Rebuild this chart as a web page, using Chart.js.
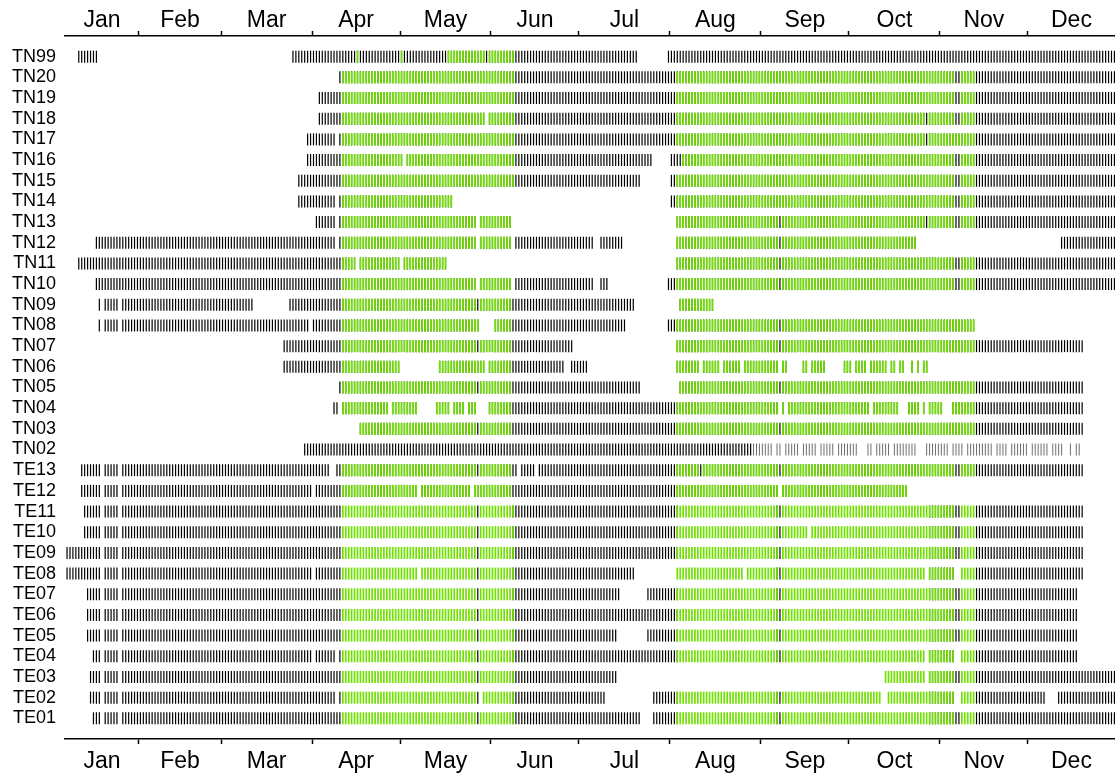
<!DOCTYPE html>
<html>
<head>
<meta charset="utf-8">
<title>Station data availability</title>
<script src="https://cdn.jsdelivr.net/npm/chart.js@4.4.1/dist/chart.umd.min.js"></script>
<style>
    html, body { margin: 0; padding: 0; background: #fff; overflow: hidden; }
    #wrap { width: 1115px; height: 773px; position: relative; }
</style>
</head>
<body>
<div id="wrap"><canvas id="availabilityChart"></canvas></div>
<script>
// Stations, top to bottom
const stations = [
    "TN99", "TN20", "TN19", "TN18", "TN17", "TN16", "TN15", "TN14", "TN13", "TN12", "TN11",
    "TN10", "TN09", "TN08", "TN07", "TN06", "TN05", "TN04", "TN03", "TN02",
    "TE13", "TE12", "TE11", "TE10", "TE09", "TE08", "TE07", "TE06", "TE05", "TE04", "TE03", "TE02", "TE01"
];

// Month tick labels and boundaries (day of year)
const months = ["Jan", "Feb", "Mar", "Apr", "May", "Jun", "Jul", "Aug", "Sep", "Oct", "Nov", "Dec"];
const monthStarts = [0, 31, 59, 90, 120, 151, 181, 212, 243, 273, 304, 334, 365];
const dayMin = 5.8;
const dayMax = 363.7;

// Days with data, [first, last) day of year, one list per station
const activeDays = [
    [[10, 17], [83, 201], [211, 364]],
    [[99, 364]],
    [[92, 364]],
    [[92, 149], [150, 364]],
    [[88, 97.5], [99, 364]],
    [[88, 121], [122.5, 206], [212, 364]],
    [[85, 202], [212, 364]],
    [[85, 97.5], [99, 138], [212, 364]],
    [[91, 97.5], [99, 146], [147, 158], [214.5, 364]],
    [[16, 97.5], [99, 146], [147, 158], [159, 186], [188, 196], [214.5, 296], [345, 364]],
    [[10.5, 104.5], [106, 120], [121, 136], [214.5, 364]],
    [[16, 146], [147, 158], [159, 186], [188, 191], [211, 364]],
    [[17, 18], [19.5, 24], [25, 70], [82, 200], [215, 227]],
    [[17, 18], [19.5, 24], [25, 88.5], [90, 146.5], [152, 197], [211, 308.5], [309.5, 316]],
    [[80, 179], [214.5, 353]],
    [[80, 120], [133, 149], [150, 164], [164.5, 176], [178, 179], [179.5, 184],
     [214.5, 216.5], [217.5, 222], [223, 229], [230, 236], [237, 248.5], [250, 252], [257, 258.5],
     [260.5, 264.5], [271.5, 274], [275.5, 279], [280.5, 286], [287, 288.5], [290.5, 292],
     [294, 295], [296, 297], [298, 299.5]],
    [[99, 202], [215, 353]],
    [[97.8, 98.5], [100, 101.5], [102.5, 116], [117.5, 126], [132.5, 136.5], [138, 142], [143.5, 146],
     [150, 164.5], [165.5, 249], [250, 251], [252.5, 280], [281.5, 290], [293, 297], [298, 299],
     [300, 304.5], [308.5, 353]],
    [[106.5, 353]],
    [[87, 240]],
    [[11.5, 18], [19, 24], [25, 95.5], [98, 159.5], [161, 165.5], [167.5, 316], [316.5, 352.5]],
    [[11.5, 18], [19, 24], [25, 89.5], [91, 113.5], [114.5, 126], [127.5, 144], [145.5, 248.5], [250, 292.5]],
    [[12, 18], [19, 24], [25, 100], [146, 147], [158.5, 214.5], [248.5, 250], [300, 311], [316, 352.5]],
    [[12, 18], [19, 24], [25, 100], [146, 147], [158.5, 214.5], [248.5, 250], [300, 311], [316, 352.5]],
    [[5.5, 18], [19, 24], [25, 100], [146, 147], [158.5, 214.5], [248.5, 250], [300, 311], [316, 352.5]],
    [[5.5, 18], [19, 24], [25, 89.5], [91, 100], [146, 147], [158.5, 200], [248.5, 250], [300, 309], [316, 352.5]],
    [[13.5, 18], [19, 24], [25, 100], [146, 147], [158.5, 194.5], [204.5, 214.5], [248.5, 250], [300, 311], [316, 351]],
    [[13.5, 18], [19, 24], [25, 100], [146, 147], [158.5, 214.5], [248.5, 250], [300, 311], [316, 351]],
    [[13.5, 18], [19, 24], [25, 100], [146, 147], [158.5, 193.5], [204.5, 214.5], [248.5, 250], [300, 311], [316, 351]],
    [[15.5, 18], [19, 24], [25, 89.5], [91, 97.5], [99, 100], [146, 147], [158.5, 214.5], [248.5, 250], [300, 309], [316, 351]],
    [[14.5, 18], [19, 24], [25, 100], [146, 147], [158.5, 193.5], [300, 311], [316, 364]],
    [[14.5, 18], [19, 24], [25, 97.5], [99, 100], [146, 147], [158.5, 189.5], [206.5, 214.5], [248.5, 250],
     [300, 309], [316, 340], [344, 364]],
    [[15.5, 18], [19, 24], [25, 100], [146, 147], [158.5, 201.5], [206.5, 214.5], [248.5, 250], [300, 311], [316, 364]]
];

// Partial days (light ticks), only TN02 has them
const partialDays = [
    [], [], [], [], [], [], [], [], [], [], [], [], [], [], [], [], [], [], [],
    [[240, 247], [248.5, 249.5], [251, 256], [257.5, 262], [263, 268], [269, 276], [279, 281], [282.5, 287],
     [288, 291.5], [292.5, 296], [299, 301.5], [302.5, 307], [308.5, 312], [313, 316.5], [317, 322],
     [323, 327], [328, 333.5], [335, 341], [342, 345.5], [348, 349], [350.5, 352]],
    [], [], [], [], [], [], [], [], [], [], [], [], []
];

// Days flagged green
const greenDays = [
    [[105, 106], [120, 121], [136, 149], [150, 158.5]],
    [[100, 158.5], [214.5, 309], [311, 316]],
    [[100, 158.5], [214.5, 309], [311, 316]],
    [[100, 149], [150, 158.5], [214.5, 299], [300, 309], [311, 316]],
    [[100, 158.5], [214.5, 299], [300, 316]],
    [[100, 121], [122.5, 158.5], [216, 309], [311, 316]],
    [[100, 158.5], [214.5, 309], [311, 316]],
    [[100, 138], [214.5, 309], [311, 316]],
    [[100, 146], [147, 158], [214.5, 248.5], [250, 299], [300, 309], [311, 316]],
    [[100, 146], [147, 158], [214.5, 248.5], [250, 296]],
    [[100, 104.5], [106, 120], [121, 136], [214.5, 248.5], [250, 309], [311, 316]],
    [[100, 146], [147, 158], [214.5, 248.5], [250, 309], [311, 316]],
    [[100, 146], [147, 158], [215, 227]],
    [[100, 146.5], [152, 158], [214.5, 248.5], [250, 308.5], [309.5, 316]],
    [[100, 146], [147, 158], [214.5, 248.5], [250, 316]],
    [[100, 120], [133, 149], [150, 158],
     [214.5, 216.5], [217.5, 222], [223, 229], [230, 236], [237, 248.5], [250, 252], [257, 258.5],
     [260.5, 264.5], [271.5, 274], [275.5, 279], [280.5, 286], [287, 288.5], [290.5, 292],
     [294, 295], [296, 297], [298, 299.5]],
    [[100, 146], [147, 158], [215, 248.5], [250, 316]],
    [[100, 101.5], [102.5, 116], [117.5, 126], [132.5, 136.5], [138, 142], [143.5, 146], [150, 158],
     [214.5, 249], [250, 251], [252.5, 280], [281.5, 290], [293, 297], [298, 299], [300, 304.5], [308.5, 315.5]],
    [[106.5, 146], [147, 158], [214.5, 248.5], [250, 316]],
    [],
    [[100, 146], [147, 158], [214.5, 222], [223, 248.5], [250, 309], [311, 316]],
    [[100, 113.5], [114.5, 126], [127.5, 144], [145.5, 158], [214.5, 248.5], [250, 292.5]],
    [[100, 146], [147, 158.5], [214.5, 248.5], [250, 309], [311, 316]],
    [[100, 146], [147, 158.5], [214.5, 248.5], [250, 259], [260.5, 309], [311, 316]],
    [[100, 146], [147, 158.5], [214.5, 248.5], [250, 309], [311, 316]],
    [[100, 126], [127.5, 146], [147, 158.5], [214.5, 236.5], [238, 248.5], [250, 299], [300, 309], [311, 316]],
    [[100, 146], [147, 158.5], [214.5, 248.5], [250, 309], [311, 316]],
    [[100, 146], [147, 158.5], [214.5, 248.5], [250, 309], [311, 316]],
    [[100, 146], [147, 158.5], [214.5, 248.5], [250, 309], [311, 316]],
    [[100, 146], [147, 158.5], [214.5, 248.5], [250, 299], [300, 309], [311, 316]],
    [[100, 146], [147, 158.5], [285, 299], [300, 309], [311, 316]],
    [[100, 107], [107.7, 108.5], [109.7, 110.5], [111.5, 146], [148, 158.5], [214.5, 248.5], [250, 284],
     [286, 309], [311, 316]],
    [[100, 146], [147, 158.5], [214.5, 248.5], [250, 309], [311, 316]]
];

const FONT = "'Liberation Sans', Arial, Helvetica, sans-serif";
const GREEN = "#6fe000";

// Expand [first, last) day ranges into one tick per day
function toDayPoints(rangeLists) {
    const points = [];
    rangeLists.forEach((ranges, row) => {
        ranges.forEach(([first, last]) => {
            for (let d = Math.floor(first); d < last; d++) {
                points.push({ x: d + 0.5, y: row });
            }
        });
    });
    return points;
}

// Month boundaries get tick marks, month middles get the labels
const monthMids = months.map((m, i) => {
    const a = Math.max(monthStarts[i], dayMin);
    const b = Math.min(monthStarts[i + 1], dayMax);
    return (a + b) / 2;
});

function setMonthTicks(scale) {
    // axis ends get blank ticks so no label padding is added
    const values = [dayMin, dayMax]
        .concat(monthStarts.filter(v => v > dayMin && v < dayMax))
        .concat(monthMids);
    values.sort((a, b) => a - b);
    scale.ticks = values.map(v => ({ value: v }));
}

function monthLabel(value) {
    const i = monthMids.findIndex(m => Math.abs(m - value) < 1e-6);
    return i >= 0 ? months[i] : "";
}

function monthTickColor(ctx) {
    if (!ctx.tick) return "rgba(0,0,0,0)";
    return monthStarts.includes(ctx.tick.value) ? "#000" : "rgba(0,0,0,0)";
}

function monthAxis(position, height, padding) {
    return {
        type: "linear",
        position: position,
        min: dayMin,
        max: dayMax,
        afterBuildTicks: setMonthTicks,
        afterFit: scale => {
            scale.height = height;
            scale.paddingLeft = 0;
            scale.paddingRight = 0;
        },
        grid: {
            display: true,
            drawOnChartArea: false,
            drawTicks: true,
            tickLength: 5,
            tickWidth: 1.5,
            tickColor: monthTickColor
        },
        border: { display: true, color: "#000", width: 1.5 },
        ticks: {
            autoSkip: false,
            maxRotation: 0,
            minRotation: 0,
            padding: padding,
            color: "#000",
            font: { family: FONT, size: 23 },
            callback: monthLabel
        }
    };
}

const tickStyle = {
    pointStyle: "line",
    rotation: 90,
    radius: 6,
    hoverRadius: 6,
    showLine: false
};

new Chart(document.getElementById("availabilityChart"), {
    type: "scatter",
    data: {
        datasets: [
            Object.assign({
                label: "green",
                data: toDayPoints(greenDays),
                borderColor: GREEN,
                borderWidth: 1.7
            }, tickStyle),
            Object.assign({
                label: "data",
                data: toDayPoints(activeDays),
                borderColor: "#000",
                borderWidth: 1.2
            }, tickStyle),
            Object.assign({
                label: "partial",
                data: toDayPoints(partialDays),
                borderColor: "#6e6e6e",
                borderWidth: 1
            }, tickStyle)
        ]
    },
    options: {
        responsive: true,
        maintainAspectRatio: false,
        animation: false,
        events: [],
        layout: { padding: 0, autoPadding: false },
        plugins: {
            legend: { display: false },
            tooltip: { enabled: false }
        },
        scales: {
            x: monthAxis("bottom", 34, 4),
            xTop: monthAxis("top", 36, -3),
            y: {
                type: "linear",
                min: -1,
                max: stations.length,
                reverse: true,
                afterBuildTicks: scale => {
                    scale.ticks = stations.map((s, i) => ({ value: i }));
                },
                afterFit: scale => { scale.width = 65; },
                grid: { display: false },
                border: { display: false },
                ticks: {
                    autoSkip: false,
                    padding: 1,
                    color: "#000",
                    font: { family: FONT, size: 18 },
                    callback: value => stations[value]
                }
            }
        }
    }
});
</script>
</body>
</html>
